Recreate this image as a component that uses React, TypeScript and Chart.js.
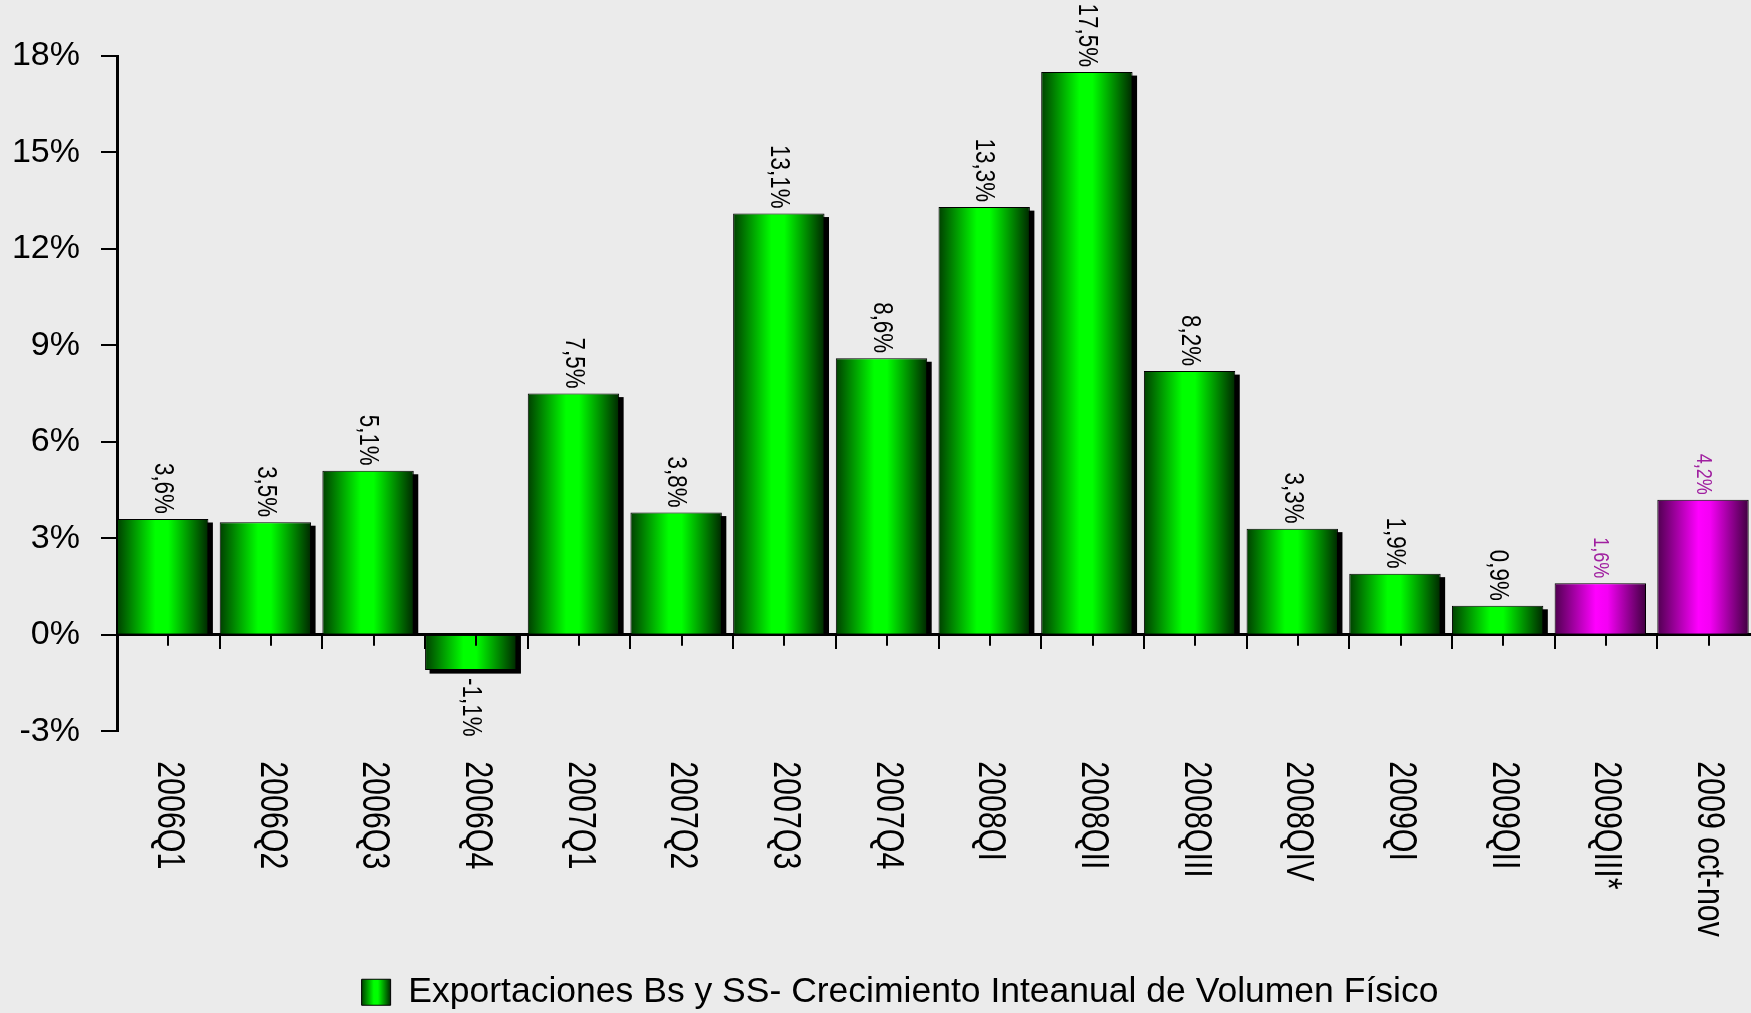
import React, { useEffect, useRef } from 'react';
import { Chart, registerables } from 'chart.js';

Chart.register(...registerables);

// ---------- data ----------
const categories = [
  '2006Q1', '2006Q2', '2006Q3', '2006Q4',
  '2007Q1', '2007Q2', '2007Q3', '2007Q4',
  '2008QI', '2008QII', '2008QIII', '2008QIV',
  '2009QI', '2009QII', '2009QIII*', '2009 oct-nov',
];
const exportGrowth: (number | null)[] = [
  3.6, 3.5, 5.1, -1.1, 7.5, 3.8, 13.1, 8.6, 13.3, 17.5, 8.2, 3.3, 1.9, 0.9, null, null,
];
const provisionalGrowth: (number | null)[] = [
  null, null, null, null, null, null, null, null, null, null, null, null, null, null, 1.6, 4.2,
];
const yMin = -3;
const yMax = 18;
const yStep = 3;
const legendLabel = 'Exportaciones Bs y SS- Crecimiento Inteanual de Volumen Físico';

// ---------- styles ----------
const GREEN_STOPS: [number, string][] = [[0, '#004000'], [0.42, '#00ff00'], [0.56, '#00ff00'], [1, '#002800']];
const MAGENTA_STOPS: [number, string][] = [[0, '#500050'], [0.45, '#ff00ff'], [0.58, '#f400f4'], [1, '#400040']];
const REGULAR = "'Liberation Sans', Arial, sans-serif";
const CONDENSE = 0.8;
const CANVAS_W = 1800;
const CANVAS_H = 1030;

function fmt(v: number) {
  return v.toFixed(1).replace('.', ',') + '%';
}

function makeGradient(ctx: CanvasRenderingContext2D, x0: number, x1: number, stops: [number, string][]) {
  const g = ctx.createLinearGradient(x0, 0, x1, 0);
  stops.forEach(([o, c]) => g.addColorStop(o, c));
  return g;
}

export default function App() {
  const ref = useRef<HTMLCanvasElement>(null);

  useEffect(() => {
    const canvas = ref.current;
    if (!canvas) return;

    const barStyler = {
      id: 'barStyler',
      beforeDraw(chart: any) {
        const lg = chart.legend;
        if (lg && lg.legendItems && lg.legendItems[0] && lg.legendHitBoxes && lg.legendHitBoxes[0]) {
          const hb = lg.legendHitBoxes[0];
          const bw = lg.options.labels.boxWidth;
          lg.legendItems[0].fillStyle = makeGradient(chart.ctx, hb.left, hb.left + bw, GREEN_STOPS);
        }
      },
      beforeDatasetsDraw(chart: any) {
        const ctx = chart.ctx as CanvasRenderingContext2D;
        const xs = chart.scales.x;
        const catW = (xs.right - xs.left) / categories.length;
        chart.data.datasets.forEach((ds: any, di: number) => {
          const meta = chart.getDatasetMeta(di);
          const stops = di === 0 ? GREEN_STOPS : MAGENTA_STOPS;
          meta.data.forEach((el: any, i: number) => {
            if (ds.data[i] == null) return;
            const left = xs.getPixelForValue(i) - catW / 2;
            el.x = left + el.width / 2;
            el.options.backgroundColor = makeGradient(ctx, left, left + el.width, stops);
            if (di === 0) {
              ctx.save();
              ctx.fillStyle = '#000';
              if (el.y <= el.base) {
                ctx.fillRect(left + 4.5, el.y + 3.5, el.width, el.base - el.y - 3.5);
              } else {
                ctx.fillRect(left + 4.5, el.base, el.width, el.y + 3.5 - el.base);
              }
              ctx.restore();
            }
          });
        });
      },
      afterDatasetsDraw(chart: any) {
        const ctx = chart.ctx as CanvasRenderingContext2D;
        chart.data.datasets.forEach((ds: any, di: number) => {
          const meta = chart.getDatasetMeta(di);
          meta.data.forEach((el: any, i: number) => {
            const v = ds.data[i];
            if (v == null) return;
            ctx.save();
            ctx.fillStyle = di === 0 ? '#000' : '#a020a0';
            ctx.font = di === 0 ? `28px ${REGULAR}` : `22.5px ${REGULAR}`;
            ctx.textBaseline = 'middle';
            if (v >= 0) {
              ctx.translate(el.x, el.y - 5);
              ctx.rotate(Math.PI / 2);
              ctx.scale(CONDENSE, 1);
              ctx.textAlign = 'right';
            } else {
              ctx.translate(el.x, el.y + 8);
              ctx.rotate(Math.PI / 2);
              ctx.scale(CONDENSE, 1);
              ctx.textAlign = 'left';
            }
            ctx.fillText(fmt(v), 0, 0);
            ctx.restore();
          });
        });
      },
      afterDraw(chart: any) {
        const ctx = chart.ctx as CanvasRenderingContext2D;
        const xs = chart.scales.x;
        const y0 = chart.scales.y.getPixelForValue(0);
        ctx.save();
        ctx.strokeStyle = '#000';
        ctx.lineWidth = 2;
        categories.forEach((_, i) => {
          const x = Math.round(xs.getPixelForValue(i));
          ctx.beginPath();
          ctx.moveTo(x, y0);
          ctx.lineTo(x, y0 + 11);
          ctx.stroke();
        });
        ctx.fillStyle = '#000';
        ctx.font = `38px ${REGULAR}`;
        ctx.textAlign = 'left';
        ctx.textBaseline = 'middle';
        categories.forEach((c, i) => {
          const x = xs.getPixelForValue(i);
          ctx.save();
          ctx.translate(x, chart.chartArea.bottom + 30);
          ctx.rotate(Math.PI / 2);
          ctx.scale(CONDENSE, 1);
          ctx.fillText(c, 0, 0);
          ctx.restore();
        });
        ctx.restore();
      },
    };

    const chart = new Chart(canvas, {
      type: 'bar',
      data: {
        labels: categories,
        datasets: [
          {
            label: legendLabel,
            data: exportGrowth as any,
            backgroundColor: () => '#00e000',
            borderColor: '#000',
            borderWidth: 1,
            borderSkipped: 'start',
            barPercentage: 0.89,
            categoryPercentage: 1,
          },
          {
            label: '2009 provisional',
            data: provisionalGrowth as any,
            backgroundColor: () => '#e000e0',
            borderColor: '#000',
            borderWidth: 1,
            borderSkipped: 'start',
            barPercentage: 0.89,
            categoryPercentage: 1,
          },
        ],
      },
      options: {
        responsive: false,
        animation: false,
        devicePixelRatio: 1,
        layout: { padding: { left: 0, right: 0, top: 56, bottom: 10 } },
        scales: {
          x: {
            type: 'category',
            stacked: true,
            position: { y: 0 } as any,
            offset: true,
            z: 1,
            grid: {
              offset: true,
              drawOnChartArea: false,
              drawTicks: true,
              tickLength: 13,
              tickWidth: 2,
              lineWidth: 2,
              color: '#000',
            },
            border: { display: true, color: '#000', width: 3 },
            ticks: { display: false },
          },
          y: {
            stacked: true,
            position: 'left',
            min: yMin,
            max: yMax,
            z: 1,
            afterFit: (s: any) => {
              s.width = 117;
            },
            ticks: {
              stepSize: yStep,
              callback: (v: any) => `${v}%`,
              color: '#000',
              padding: 21,
              font: { family: REGULAR, size: 34 },
            },
            grid: {
              drawOnChartArea: false,
              drawTicks: true,
              tickLength: 16,
              tickWidth: 2,
              lineWidth: 2,
              color: '#000',
            },
            border: { display: true, color: '#000', width: 3 },
          },
          yRightSpace: {
            type: 'linear',
            position: 'right',
            display: true,
            afterFit: (s: any) => {
              s.width = 40;
            },
            ticks: { display: false },
            grid: { display: false, drawTicks: false },
            border: { display: false },
          },
        },
        plugins: {
          legend: {
            position: 'bottom',
            labels: {
              filter: (item: any) => item.datasetIndex === 0,
              boxWidth: 29,
              boxHeight: 26,
              padding: 243.3,
              color: '#000',
              font: { family: REGULAR, size: 35.5 },
            },
          },
          tooltip: { enabled: false },
        },
      },
      plugins: [barStyler],
    });

    return () => chart.destroy();
  }, []);

  return (
    <div
      style={{
        position: 'fixed',
        left: 0,
        top: 0,
        width: 1751,
        height: 1013,
        overflow: 'hidden',
        background: '#ebebeb',
      }}
    >
      <canvas ref={ref} width={CANVAS_W} height={CANVAS_H} style={{ display: 'block' }} />
    </div>
  );
}
